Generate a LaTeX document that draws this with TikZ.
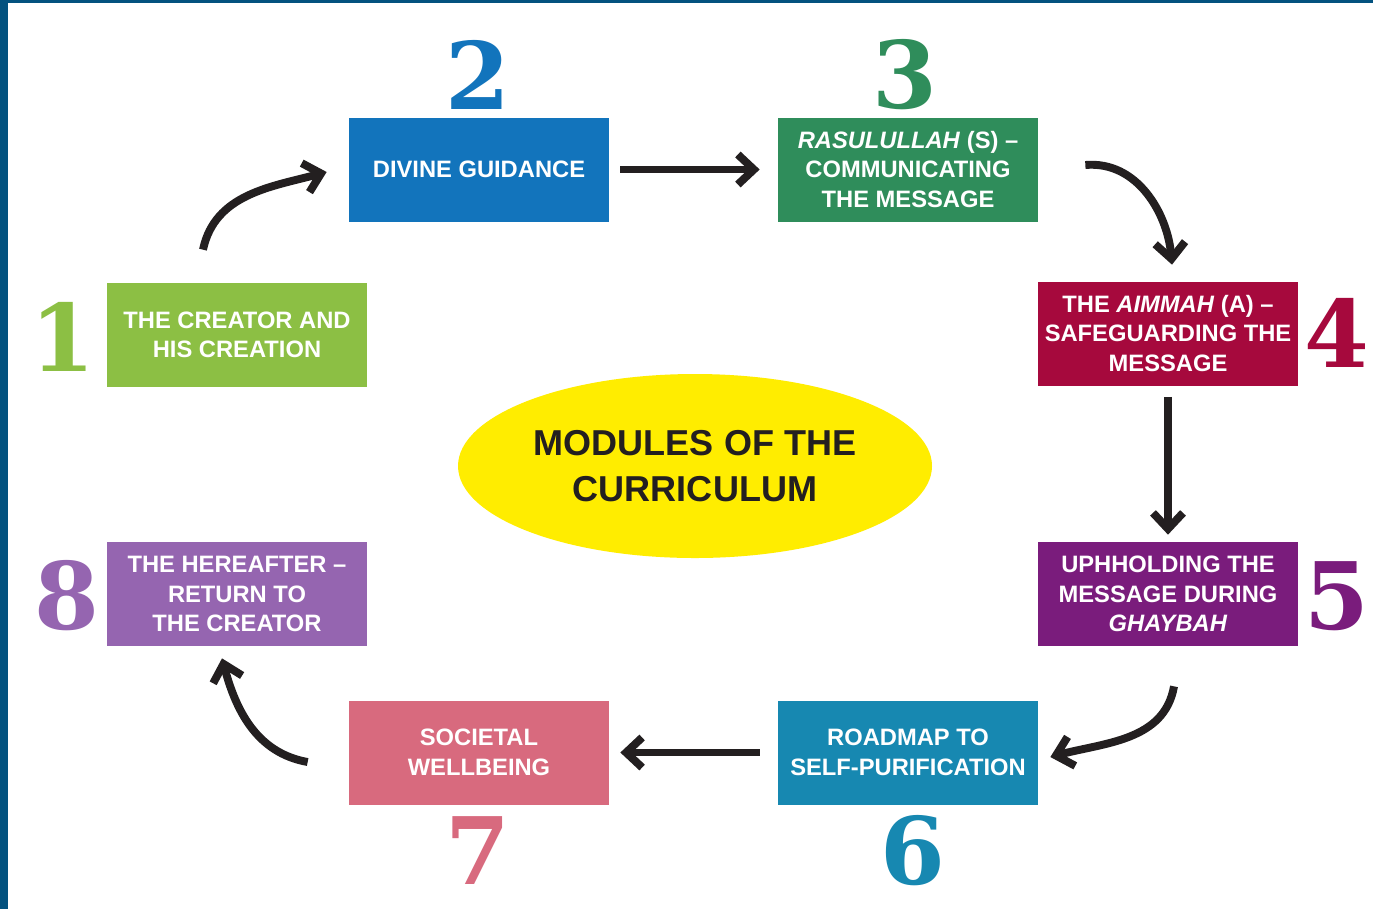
\documentclass[tikz,border=0pt]{standalone}
\usepackage{fontspec}
\setsansfont{Liberation Sans}
\newfontfamily\numfont{DejaVu Serif}
\usetikzlibrary{arrows.meta,shapes.geometric}

\definecolor{frameblue}{HTML}{03527F}
\definecolor{creatorgreen}{HTML}{8CBF44}
\definecolor{guideblue}{HTML}{1274BC}
\definecolor{rasulgreen}{HTML}{2F8D5B}
\definecolor{aimmahred}{HTML}{A6093D}
\definecolor{ghaybahpurple}{HTML}{7A1C7C}
\definecolor{roadteal}{HTML}{1788B1}
\definecolor{societypink}{HTML}{D86A7E}
\definecolor{afterlilac}{HTML}{9565B0}
\definecolor{coreyellow}{HTML}{FFED00}
\definecolor{coretext}{HTML}{231F20}

\begin{document}
\begin{tikzpicture}[
		modbox/.style={rectangle, minimum width=5.2cm, minimum height=2.08cm, inner sep=0pt, align=center, text=white, font=\sffamily\bfseries\fontsize{13.5}{16.8}\selectfont},
		modnum/.style={inner sep=0pt, font=\numfont\bfseries\fontsize{53}{53}\selectfont},
		cyc/.style={draw=coretext, line width=4.5pt, -{Straight Barb[length=3.2mm, width=6mm]}}
	]
  \fill[frameblue] (0,0) rectangle (27.46,-18.18);
  \fill[white] (0.16,-0.06) rectangle (27.46,-18.18);
  \useasboundingbox (0,0) rectangle (27.46,-18.18);
  \node (b1) [modbox, fill=creatorgreen] at (4.74,-6.70) {THE CREATOR AND\\HIS CREATION};
  \node (b2) [modbox, fill=guideblue] at (9.58,-3.39) {DIVINE GUIDANCE};
  \node (b3) [modbox, fill=rasulgreen] at (18.16,-3.39) {\textit{RASULULLAH} (S) --\\COMMUNICATING\\THE MESSAGE};
  \node (b4) [modbox, fill=aimmahred] at (23.36,-6.67) {THE \textit{AIMMAH} (A) --\\SAFEGUARDING THE\\MESSAGE};
  \node (b5) [modbox, fill=ghaybahpurple] at (23.36,-11.88) {UPHHOLDING THE\\MESSAGE DURING\\\textit{GHAYBAH}};
  \node (b6) [modbox, fill=roadteal] at (18.16,-15.05) {ROADMAP TO\\SELF-PURIFICATION};
  \node (b7) [modbox, fill=societypink] at (9.58,-15.05) {SOCIETAL\\WELLBEING};
  \node (b8) [modbox, fill=afterlilac] at (4.74,-11.88) {THE HEREAFTER --\\RETURN TO\\THE CREATOR};
  \node (core) [ellipse, fill=coreyellow, minimum width=9.48cm, minimum height=3.68cm, align=center, text=coretext, font=\sffamily\bfseries\fontsize{20.5}{26}\selectfont] at (13.9,-9.32) {MODULES OF THE\\CURRICULUM};
  \node (n1) [modnum, text=creatorgreen] at (1.26,-6.74) {1};
  \node (n2) [modnum, text=guideblue] at (9.56,-1.5) {2};
  \node (n3) [modnum, text=rasulgreen] at (18.1,-1.5) {3};
  \node (n4) [modnum, text=aimmahred] at (26.74,-6.66) {4};
  \node (n5) [modnum, text=ghaybahpurple] at (26.74,-11.92) {5};
  \node (n6) [modnum, text=roadteal] at (18.26,-17.02) {6};
  \node (n7) [modnum, text=societypink] at (9.56,-17.02) {7};
  \node (n8) [modnum, text=afterlilac] at (1.34,-11.92) {8};
  \draw[cyc] ([xshift=-0.68cm,yshift=0.66cm]b1.north) to[out=78, in=195] ([xshift=-0.44cm,yshift=-0.05cm]b2.west);
  \draw[cyc, shorten <=0.22cm, shorten >=0.36cm] (b2) -- (b3);
  \draw[cyc] ([xshift=0.94cm,yshift=0.09cm]b3.east) to[out=5, in=95] ([xshift=0.08cm,yshift=0.33cm]b4.north);
  \draw[cyc, shorten <=0.22cm, shorten >=0.14cm] (b4) -- (b5);
  \draw[cyc] ([xshift=0.12cm,yshift=-0.8cm]b5.south) to[out=-100, in=15] ([xshift=0.24cm,yshift=-0.09cm]b6.east);
  \draw[cyc, shorten <=0.36cm, shorten >=0.22cm] (b6) -- (b7);
  \draw[cyc] ([xshift=-0.82cm,yshift=-0.19cm]b7.west) to[out=170, in=-75] ([xshift=-0.3cm,yshift=-0.24cm]b8.south);
\end{tikzpicture}
\end{document}
